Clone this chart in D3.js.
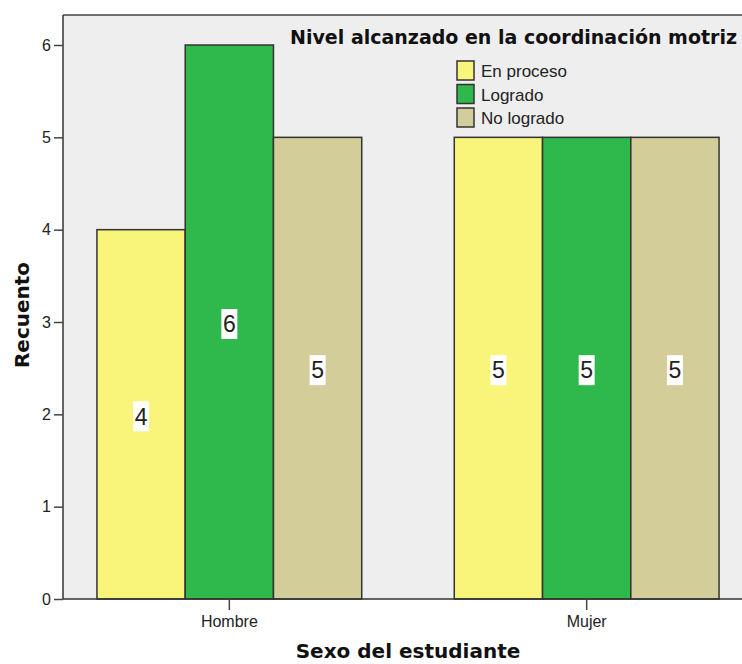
<!DOCTYPE html>
<html>
<head>
<meta charset="utf-8">
<script src="https://cdn.jsdelivr.net/npm/d3@7"></script>
<style>
  html, body { margin: 0; padding: 0; background: #ffffff; }
  svg { display: block; }
</style>
</head>
<body>
<svg id="chart" width="742" height="664"></svg>
<script>
// Counts of students per sex and motor-coordination level
const groups = ["Hombre", "Mujer"];
const levels = ["En proceso", "Logrado", "No logrado"];
const hombreCounts = [4, 6, 5];
const mujerCounts = [5, 5, 5];
const yTicks = [0, 1, 2, 3, 4, 5, 6];
const levelColors = ["#f9f57a", "#2fb84b", "#d3cd99"];

const countsByGroup = { Hombre: hombreCounts, Mujer: mujerCounts };
const rows = groups.map(g => ({
  group: g,
  values: levels.map((lv, i) => ({ level: lv, value: countsByGroup[g][i], color: levelColors[i] }))
}));

const svg = d3.select("#chart");
const plot = { left: 63, top: 15, right: 753, bottom: 599 };

const x0 = d3.scaleBand()
  .domain(groups)
  .range([plot.left, plot.right])
  .paddingInner(0.259)
  .paddingOuter(0.095);

const x1 = d3.scaleBand()
  .domain(levels)
  .range([0, x0.bandwidth()])
  .padding(0);

const y = d3.scaleLinear()
  .domain([0, 6.325])
  .range([plot.bottom, plot.top]);

// plot background
svg.append("rect")
  .attr("x", plot.left).attr("y", plot.top)
  .attr("width", plot.right - plot.left)
  .attr("height", plot.bottom - plot.top)
  .attr("fill", "#eeeeee");

// top frame line
svg.append("line")
  .attr("x1", plot.left).attr("x2", plot.right)
  .attr("y1", plot.top).attr("y2", plot.top)
  .attr("stroke", "#444").attr("stroke-width", 1.5);

// bars
const gGroups = svg.append("g").selectAll("g")
  .data(rows).join("g")
  .attr("transform", d => `translate(${x0(d.group)},0)`);

gGroups.selectAll("rect")
  .data(d => d.values).join("rect")
  .attr("x", d => x1(d.level))
  .attr("y", d => y(d.value))
  .attr("width", x1.bandwidth())
  .attr("height", d => y(0) - y(d.value))
  .attr("fill", d => d.color)
  .attr("stroke", "#333")
  .attr("stroke-width", 1.5);

// value labels with white boxes at bar mid-height
const labels = gGroups.selectAll("g.lab")
  .data(d => d.values).join("g")
  .attr("class", "lab")
  .attr("transform", d => `translate(${x1(d.level) + x1.bandwidth() / 2},${(y(d.value) + y(0)) / 2 + 2})`);

labels.append("rect")
  .attr("x", -8).attr("y", -15)
  .attr("width", 16).attr("height", 30)
  .attr("fill", "#ffffff");

labels.append("text")
  .attr("text-anchor", "middle")
  .attr("dy", "0.36em")
  .attr("font-family", "Liberation Sans, Arial, sans-serif")
  .attr("font-size", 23)
  .attr("fill", "#222")
  .text(d => d.value);

// y axis
const yAxis = svg.append("g")
  .attr("transform", `translate(${plot.left},0)`)
  .call(d3.axisLeft(y).tickValues(yTicks).tickFormat(d3.format("d")).tickSize(9).tickPadding(3));
yAxis.select(".domain").attr("stroke", "#333").attr("stroke-width", 1.5)
  .attr("d", `M0,${plot.top}V${plot.bottom}`);
yAxis.selectAll(".tick line").attr("stroke", "#444").attr("stroke-width", 1.5);
yAxis.selectAll(".tick text")
  .attr("font-family", "Liberation Sans, Arial, sans-serif")
  .attr("font-size", 16).attr("fill", "#222");

// x axis
const xAxis = svg.append("g")
  .attr("transform", `translate(0,${plot.bottom})`)
  .call(d3.axisBottom(x0).tickSize(11).tickPadding(6));
xAxis.select(".domain").attr("stroke", "#333").attr("stroke-width", 1.5)
  .attr("d", `M${plot.left},0H${plot.right}`);
xAxis.selectAll(".tick line").attr("stroke", "#444").attr("stroke-width", 1.5);
xAxis.selectAll(".tick text")
  .attr("font-family", "Liberation Sans, Arial, sans-serif")
  .attr("font-size", 16).attr("fill", "#222");

// axis titles
svg.append("text")
  .attr("transform", `translate(29,${(plot.top + plot.bottom) / 2 + 8}) rotate(-90)`)
  .attr("text-anchor", "middle")
  .attr("font-family", "DejaVu Sans, sans-serif")
  .attr("font-weight", "bold")
  .attr("font-size", 20)
  .attr("fill", "#111")
  .text("Recuento");

svg.append("text")
  .attr("x", 408).attr("y", 658)
  .attr("text-anchor", "middle")
  .attr("font-family", "DejaVu Sans, sans-serif")
  .attr("font-weight", "bold")
  .attr("font-size", 20)
  .attr("fill", "#111")
  .text("Sexo del estudiante");

// legend
svg.append("text")
  .attr("x", 737).attr("y", 44)
  .attr("text-anchor", "end")
  .attr("font-family", "DejaVu Sans, sans-serif")
  .attr("font-weight", "bold")
  .attr("font-size", 19)
  .attr("fill", "#111")
  .text("Nivel alcanzado en la coordinación motriz");

const legend = svg.append("g").attr("transform", "translate(457,61)");
const legendRows = legend.selectAll("g")
  .data(levels).join("g")
  .attr("transform", (d, i) => `translate(0,${i * 23.5})`);
legendRows.append("rect")
  .attr("x", 0).attr("y", 0)
  .attr("width", 17).attr("height", 19)
  .attr("fill", (d, i) => levelColors[i])
  .attr("stroke", "#333").attr("stroke-width", 1.5);
legendRows.append("text")
  .attr("x", 24).attr("y", 10)
  .attr("dy", "0.36em")
  .attr("font-family", "Liberation Sans, Arial, sans-serif")
  .attr("font-size", 17)
  .attr("fill", "#222")
  .text(d => d);
</script>
</body>
</html>
